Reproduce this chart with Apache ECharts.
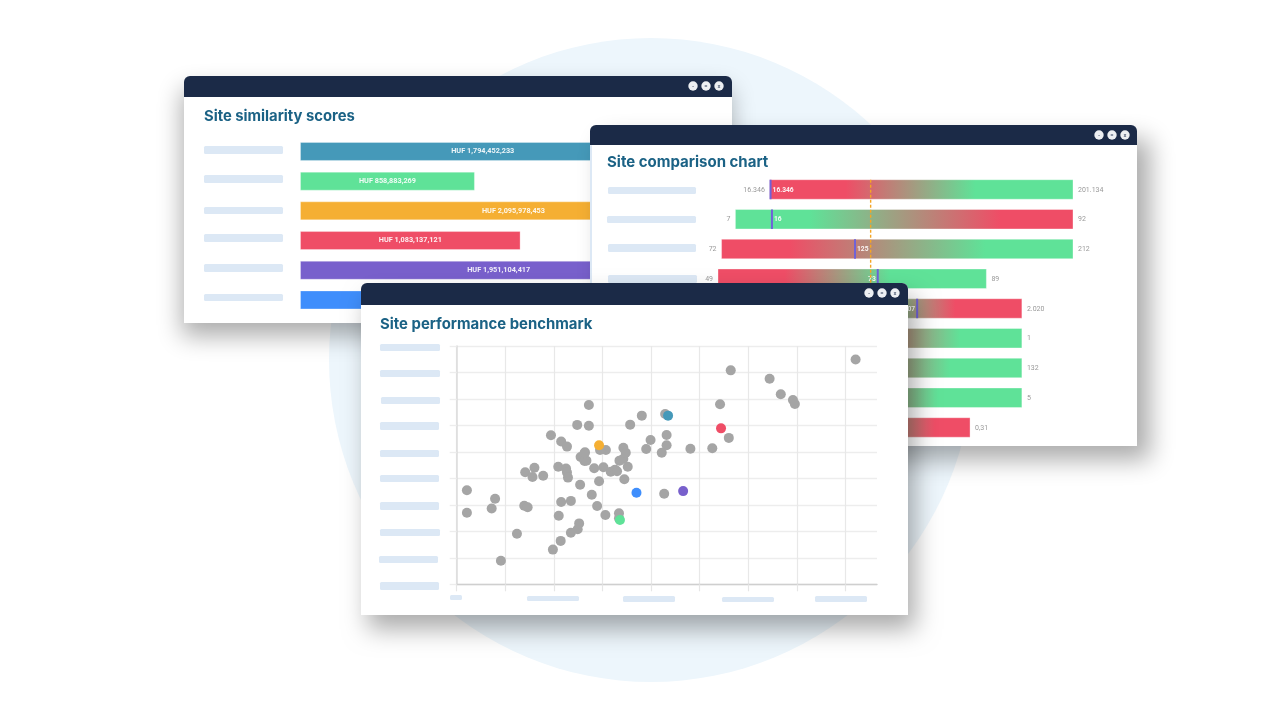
<!DOCTYPE html>
<html>
<head>
<meta charset="utf-8">
<title>Site benchmark windows</title>
<style>
	html, body { margin: 0; padding: 0; background: #fff; }
	#main { width: 1280px; height: 720px; }
</style>
<script src="https://cdn.jsdelivr.net/npm/echarts@6/dist/echarts.min.js"></script>
</head>
<body>
<div id="main"></div>
<script>
"use strict";

// similarity scores
var barSites = ['a', 'b', 'c', 'd', 'e', 'f'];
var barValues = [1794452233, 858883269, 2095978453, 1083137121, 1951104417, 1400000000];
var barLabels = ['HUF 1,794,452,233', 'HUF 858,883,269', 'HUF 2,095,978,453', 'HUF 1,083,137,121', 'HUF 1,951,104,417', ''];
var barColors = ['#4599B9', '#5FE298', '#F5AF33', '#EF4D66', '#7860CC', '#3F8EFC'];

// comparison chart, every row has its own scale so positions are kept in percent
var rangeRows = [0, 1, 2, 3, 4, 5, 6, 7, 8];
var rangeLows = [14.6, 4.9, 1.0, 0, 10, 12, 8, 14, 10];
var rangeHighs = [100, 100, 100, 75.6, 85.6, 85.6, 85.6, 85.6, 71.0];
var rangeMarkers = [14.8, 15.2, 38.6, 45.0, 56.1, null, null, null, null];
var fadeStarts = [36, 25.9, 20.3, 18.9, 45.6, 40, 36, 34, 37];
var fadeEnds = [72.4, 79.4, 75.2, 48.5, 66.8, 68.2, 65.4, 62, 61];
var lowIsRed = [true, false, true, true, false, true, true, true, false];
var lowLabels = ['16.346', '7', '72', '49', '', '', '', '', ''];
var highLabels = ['201.134', '92', '212', '89', '2.020', '1', '132', '5', '0,31'];
var markerLabels = ['16.346', '16', '125', '73', '07', '', '', '', ''];
var benchmarkValue = [43];

// performance benchmark
var otherSites = [
	[27.2, 67.7], [24.8, 60.2], [27.2, 59.9], [35.7, 60.3], [19.4, 56.3], [21.5, 53.9], [22.7, 52.0], [26.4, 49.9],
	[30.7, 50.7], [34.3, 51.6], [38.1, 63.7], [2.1, 35.5], [7.9, 32.3], [7.2, 28.6], [2.1, 27.0], [13.9, 29.7],
	[14.6, 29.1], [12.4, 19.1], [9.1, 8.9], [19.8, 13.1], [21.4, 16.4], [23.5, 19.5], [24.9, 20.8], [25.2, 23.0],
	[21.0, 25.9], [21.5, 31.1], [23.5, 31.5], [28.9, 29.6], [27.8, 33.8], [30.6, 26.2], [33.4, 26.8], [33.4, 24.9],
	[25.4, 37.6], [29.3, 38.9], [34.5, 39.7], [14.1, 42.3], [16.0, 44.0], [15.6, 40.5], [17.8, 41.0], [20.9, 44.4],
	[22.5, 43.7], [22.7, 42.2], [22.9, 40.3], [28.3, 43.8], [30.2, 44.2], [31.7, 42.5], [32.6, 43.3], [33.0, 42.7],
	[35.2, 44.4], [25.5, 48.1], [26.3, 46.6], [26.7, 46.7], [33.5, 46.7], [34.3, 47.4], [34.8, 49.7], [82.1, 84.9],
	[56.4, 80.8], [64.4, 77.6], [66.7, 71.8], [69.2, 69.6], [69.6, 68.1], [54.2, 68.0], [42.9, 64.3], [56.0, 55.3],
	[43.2, 56.4], [39.9, 54.5], [43.2, 52.5], [39.0, 51.1], [42.2, 49.7], [48.1, 51.2], [52.6, 51.4], [42.7, 34.2],
	[26.3, 49.5], [29.5, 50.7]
];
var markedSites = [[43.5, 63.7], [33.6, 24.3], [29.3, 52.5], [54.4, 58.9], [46.6, 35.2], [37.0, 34.6]];
var xTicks = [0, 10, 20, 30, 40, 50, 60, 70, 80];

var TITLE_COLOR = '#1B6285';
var HEADER_COLOR = '#1B2A47';
var SKELETON_COLOR = '#DCE8F5';
var RED = '#EF4D66';
var GREEN = '#5FE298';

function makeWindow(x, y, width, height, headerHeight, z, shadowX, shadowY, buttonsX) {
	var items = [];
	items.push({
		type: 'rect', z: z, silent: true,
		shape: { x: x, y: y, width: width, height: height, r: [6, 6, 0, 0] },
		style: { fill: '#fff', shadowBlur: 24, shadowOffsetX: shadowX, shadowOffsetY: shadowY, shadowColor: 'rgba(0,0,0,0.33)' }
	});
	items.push({
		type: 'rect', z: z, silent: true,
		shape: { x: x, y: y, width: width, height: headerHeight, r: [6, 6, 0, 0] },
		style: { fill: HEADER_COLOR }
	});
	var glyphs = ['-', '=', 'x'];
	for (var i = 0; i < 3; i++) {
		var cx = buttonsX + i * 13;
		var cy = y + 10;
		items.push({
			type: 'circle', z: z, silent: true,
			shape: { cx: cx, cy: cy, r: 4.7 },
			style: { fill: '#EDEFF2' }
		});
		items.push({
			type: 'text', z: z, silent: true, x: cx, y: cy,
			style: { text: glyphs[i], fill: '#33415C', fontSize: 6, align: 'center', verticalAlign: 'middle', fontFamily: 'Roboto' }
		});
	}
	return items;
}

// grey label placeholders of the screenshots
function makeSkeletons(boxes, z) {
	var items = [];
	for (var i = 0; i < boxes.length; i++) {
		items.push({
			type: 'rect', z: z, silent: true,
			shape: { x: boxes[i][0], y: boxes[i][1], width: boxes[i][2], height: boxes[i][3], r: 1.5 },
			style: { fill: SKELETON_COLOR }
		});
	}
	return items;
}

function rangeGradient(row) {
	var span = rangeHighs[row] - rangeLows[row];
	var from = Math.max(0, (fadeStarts[row] - rangeLows[row]) / span);
	var to = Math.min(1, (fadeEnds[row] - rangeLows[row]) / span);
	var first = lowIsRed[row] ? RED : GREEN;
	var last = lowIsRed[row] ? GREEN : RED;
	return {
		type: 'linear', x: 0, y: 0, x2: 1, y2: 0,
		colorStops: [
			{ offset: 0, color: first },
			{ offset: from, color: first },
			{ offset: to, color: last },
			{ offset: 1, color: last }
		]
	};
}

function renderRange(params, api) {
	var row = api.value(0);
	var center = api.coord([0, row])[1];
	var barHeight = 19.5;
	var left = api.coord([rangeLows[row], row])[0];
	var right = api.coord([rangeHighs[row], row])[0];
	var top = center - barHeight / 2;
	var children = [{
		type: 'rect',
		shape: { x: left, y: top, width: right - left, height: barHeight },
		style: { fill: rangeGradient(row), stroke: 'rgba(255,255,255,0.35)', lineWidth: 1 }
	}, {
		type: 'text', x: left - 5, y: center + 0.5,
		style: { text: lowLabels[row], fill: '#999', fontSize: 7, align: 'right', verticalAlign: 'middle', fontFamily: 'Roboto' }
	}, {
		type: 'text', x: right + 5, y: center + 0.5,
		style: { text: highLabels[row], fill: '#999', fontSize: 7, align: 'left', verticalAlign: 'middle', fontFamily: 'Roboto' }
	}];
	if (rangeMarkers[row] !== null) {
		var markerX = api.coord([rangeMarkers[row], row])[0];
		var onRight = (rangeMarkers[row] - rangeLows[row]) / (rangeHighs[row] - rangeLows[row]) < 0.5;
		children.push({
			type: 'rect',
			shape: { x: markerX - 1, y: top, width: 2, height: barHeight },
			style: { fill: '#6F62D8' }
		});
		children.push({
			type: 'text', x: markerX + (onRight ? 2 : -2), y: center + 0.5,
			style: { text: markerLabels[row], fill: 'rgba(255,255,255,0.92)', fontSize: 6.7, fontWeight: 'bold', align: onRight ? 'left' : 'right', verticalAlign: 'middle', fontFamily: 'Roboto' }
		});
	}
	return { type: 'group', children: children };
}

function renderBenchmark(params, api) {
	var x = api.coord([api.value(0), 0])[0];
	var y1 = api.coord([0, 0])[1] - 9.75;
	var y2 = api.coord([0, rangeRows.length - 1])[1] + 9.75;
	return {
		type: 'line',
		shape: { x1: x, y1: y1, x2: x, y2: y2 },
		style: { stroke: '#F5A623', lineWidth: 1.4, lineDash: [3, 2] }
	};
}

var graphics = [{
	type: 'circle', z: 0, silent: true,
	shape: { cx: 651, cy: 360, r: 322 },
	style: { fill: '#EDF6FC' }
}];

graphics = graphics.concat(makeWindow(184, 76, 548, 247, 21, 1, -2, 13, 693));
graphics = graphics.concat(makeSkeletons([
	[204, 146, 79, 8], [204, 175, 79, 8], [204, 207, 79, 7], [204, 234, 79, 8], [204, 264, 79, 8], [204, 294, 79, 7]
], 2));

graphics = graphics.concat(makeWindow(590, 125, 547, 321, 20, 10, 13, 14, 1099));
graphics = graphics.concat(makeSkeletons([
	[590, 145, 2, 140], [608, 187, 88, 7], [607, 216, 89, 7], [608, 244, 88, 8], [608, 275, 89, 8]
], 11));

graphics = graphics.concat(makeWindow(361, 283, 547, 332, 22, 20, 7, 14, 869));
graphics = graphics.concat(makeSkeletons([
	[380, 344, 60, 7], [380, 370, 60, 7], [381, 397, 59, 7], [380, 422, 59, 8], [380, 450, 59, 7],
	[380, 475, 59, 7], [380, 502, 59, 8], [380, 529, 60, 7], [379, 556, 59, 7], [380, 582, 59, 8],
	[450, 595, 12, 5], [527, 596, 52, 5], [623, 596, 52, 6], [722, 597, 52, 5], [815, 596, 52, 6]
], 21));

var option = {
	animation: false,
	backgroundColor: '#fff',
	title: [{
		text: 'Site similarity scores', left: 204, top: 109, padding: 0, z: 2,
		textStyle: { color: TITLE_COLOR, fontSize: 14.8, fontWeight: 700, fontFamily: 'Inter' }
	}, {
		text: 'Site comparison chart', left: 607, top: 155, padding: 0, z: 11,
		textStyle: { color: TITLE_COLOR, fontSize: 15, fontWeight: 700, fontFamily: 'Inter' }
	}, {
		text: 'Site performance benchmark', left: 380, top: 317, padding: 0, z: 21,
		textStyle: { color: TITLE_COLOR, fontSize: 14.9, fontWeight: 700, fontFamily: 'Inter' }
	}],
	graphic: graphics,
	grid: [
		{ left: 300, top: 136.6, width: 430, height: 178.2 },
		{ left: 718, top: 174.6, width: 355, height: 267.75 },
		{ left: 456.7, top: 346, width: 420.3, height: 238.3 }
	],
	xAxis: [{
		gridIndex: 0, type: 'value', show: false, min: 0, max: 2111300000
	}, {
		gridIndex: 1, type: 'value', show: false, min: 0, max: 100
	}, {
		gridIndex: 2, type: 'value', min: 0, max: 86.5, interval: 10, z: 21,
		axisLabel: { show: false },
		axisLine: { onZero: false, lineStyle: { color: '#CFCFCF', width: 1.4 } },
		axisTick: { show: true, length: 7, customValues: xTicks, lineStyle: { color: '#E6E6E6', width: 1.2 } },
		splitLine: { show: true, lineStyle: { color: '#E8E8E8', width: 1.2 } }
	}],
	yAxis: [{
		gridIndex: 0, type: 'category', show: false, inverse: true, data: barSites
	}, {
		gridIndex: 1, type: 'category', show: false, inverse: true, data: rangeRows
	}, {
		gridIndex: 2, type: 'value', min: 0, max: 90, interval: 10, z: 21,
		axisLabel: { show: false },
		axisLine: { show: true, onZero: false, lineStyle: { color: '#DDDDDD', width: 1.6 } },
		axisTick: { show: true, length: 7, lineStyle: { color: '#EDEDED', width: 1.4 } },
		splitLine: { show: true, lineStyle: { color: '#EDEDED', width: 1.4 } }
	}],
	series: [{
		type: 'bar', xAxisIndex: 0, yAxisIndex: 0, z: 3, barWidth: 19,
		data: barValues.map(function(value, index) {
			return {
				value: value,
				itemStyle: { color: barColors[index], borderColor: 'rgba(255,255,255,0.3)', borderWidth: 1 },
				label: { show: barLabels[index] !== '' }
			};
		}),
		label: {
			position: 'inside',
			color: 'rgba(255,255,255,0.9)',
			fontSize: 7.3,
			fontWeight: 'bold',
			fontFamily: 'Roboto',
			formatter: function(params) {
				return barLabels[params.dataIndex];
			}
		}
	}, {
		type: 'custom', xAxisIndex: 1, yAxisIndex: 1, z: 12,
		renderItem: renderRange,
		encode: { x: 1, y: 0 },
		data: rangeRows.map(function(row) {
			return [row, rangeHighs[row]];
		})
	}, {
		type: 'custom', xAxisIndex: 1, yAxisIndex: 1, z: 13,
		renderItem: renderBenchmark,
		encode: { x: 0, y: 1 },
		data: [[benchmarkValue[0], 0]]
	}, {
		type: 'scatter', xAxisIndex: 2, yAxisIndex: 2, z: 22, symbolSize: 10,
		itemStyle: { color: '#A5A5A5', opacity: 1 },
		data: otherSites
	}, {
		type: 'scatter', xAxisIndex: 2, yAxisIndex: 2, z: 23, symbolSize: 10,
		itemStyle: {
			opacity: 1,
			color: function(params) {
				return barColors[params.dataIndex];
			}
		},
		data: markedSites
	}]
};

var chart = echarts.init(document.getElementById('main'));
chart.setOption(option);
</script>
</body>
</html>
